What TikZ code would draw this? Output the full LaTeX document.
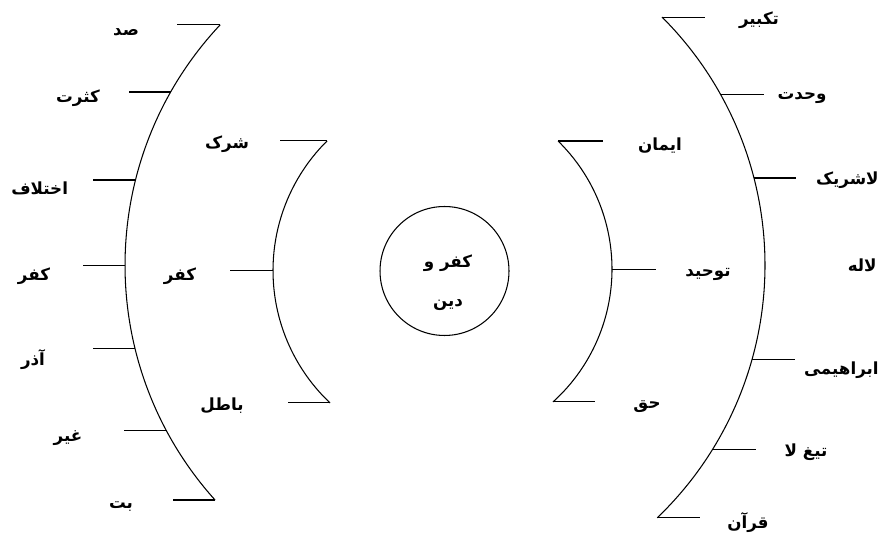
\documentclass[tikz,border=0pt]{standalone}
\usepackage{fontspec}
\newfontfamily\arabicfont[Script=Arabic]{DejaVu Sans}
\TeXXeTstate=1
\newcommand{\fatext}[1]{{\arabicfont\beginR #1\endR}}
\tikzset{
  lbl/.style={inner sep=0pt, font=\fontsize{9.5}{11}\selectfont\bfseries},
  bow/.style={line width=0.6pt},
  tick/.style={line width=0.6pt}
}

\begin{document}
\begin{tikzpicture}[x=0.02cm,y=0.02cm]
\useasboundingbox (0,0) rectangle (882,-536);

% centres of the four bows
\coordinate (cl) at (476.2,-265.2);
\coordinate (ci) at (455.3,-270.5);
\coordinate (cj) at (433,-269.1);
\coordinate (cr) at (414.8,-265.1);

% outer left bow
\coordinate (l1) at ([shift={(cl)}]136.8:351.2);
\coordinate (l2) at ([shift={(cl)}]150.45:351.2);
\coordinate (l3) at ([shift={(cl)}]165.96:351.2);
\coordinate (l4) at ([shift={(cl)}]180:351.2);
\coordinate (l5) at ([shift={(cl)}]193.8:351.2);
\coordinate (l6) at ([shift={(cl)}]208:351.2);
\coordinate (l7) at ([shift={(cl)}]221.96:351.2);
\draw[bow] (l1) arc[start angle=136.8, end angle=221.96, radius=351.2];
\draw[tick] (l1) -- ++(-43,0) coordinate (l1e);
\draw[tick] (l2) -- ++(-42,0) coordinate (l2e);
\draw[tick] (l3) -- ++(-42,0) coordinate (l3e);
\draw[tick] (l4) -- ++(-42,0) coordinate (l4e);
\draw[tick] (l5) -- ++(-42,0) coordinate (l5e);
\draw[tick] (l6) -- ++(-42,0) coordinate (l6e);
\draw[tick] (l7) -- ++(-42,0) coordinate (l7e);

\node[lbl] (samad)   at (126,-32)  {\fatext{صد}};
\node[lbl] (kasrat)  at (78,-98)   {\fatext{کثرت}};
\node[lbl, anchor=west] (ekhtel) at (11,-188) {\fatext{اختلاف}};
\node[lbl] (kofrA)   at (34,-276)  {\fatext{کفر}};
\node[lbl] (azar)    at (33,-360)  {\fatext{آذر}};
\node[lbl] (gheir)   at (68,-438)  {\fatext{غیر}};
\node[lbl] (bot)     at (121,-506) {\fatext{بت}};

% inner left bow
\coordinate (i1) at ([shift={(ci)}]134.7:182.3);
\coordinate (i2) at ([shift={(ci)}]180:182.3);
\coordinate (i3) at ([shift={(ci)}]226.6:182.3);
\draw[bow] (i1) arc[start angle=134.7, end angle=226.6, radius=182.3];
\draw[tick] (i1) -- ++(-47,0) coordinate (i1e);
\draw[tick] (i2) -- ++(-43,0) coordinate (i2e);
\draw[tick] (i3) -- ++(-42,0) coordinate (i3e);

\node[lbl] (sherk)   at (227,-144) {\fatext{شرک}};
\node[lbl] (kofrB)   at (180,-276) {\fatext{کفر}};
\node[lbl] (batel)   at (222,-406) {\fatext{باطل}};

% centre
\node[draw, circle, line width=0.6pt, minimum size=2.58cm, inner sep=0pt] (kd) at (444.5,-271) {};
\node[lbl, align=center] (kdtxt) at (448,-283) {\fatext{کفر و}\\[11pt]\fatext{دین}};

% inner right bow
\coordinate (j1) at ([shift={(cj)}]45.7:179);
\coordinate (j2) at ([shift={(cj)}]0:179);
\coordinate (j3) at ([shift={(cj)}]-47.9:179);
\draw[bow] (j1) arc[start angle=45.7, end angle=-47.9, radius=179];
\draw[tick] (j1) -- ++(45,0) coordinate (j1e);
\draw[tick] (j2) -- ++(44,0) coordinate (j2e);
\draw[tick] (j3) -- ++(42,0) coordinate (j3e);

\node[lbl] (iman)    at (660,-146) {\fatext{ایمان}};
\node[lbl] (tohid)   at (708,-274) {\fatext{توحید}};
\node[lbl] (hagh)    at (647,-407) {\fatext{حق}};

% outer right bow
\coordinate (r1) at ([shift={(cr)}]45.1:350.2);
\coordinate (r2) at ([shift={(cr)}]29.2:350.2);
\coordinate (r3) at ([shift={(cr)}]14.4:350.2);
\coordinate (r4) at ([shift={(cr)}]-15.7:350.2);
\coordinate (r5) at ([shift={(cr)}]-31.7:350.2);
\coordinate (r6) at ([shift={(cr)}]-46.2:350.2);
\draw[bow] (r1) arc[start angle=45.1, end angle=-46.2, radius=350.2];
\draw[tick] (r1) -- ++(43,0) coordinate (r1e);
\draw[tick] (r2) -- ++(44,0) coordinate (r2e);
\draw[tick] (r3) -- ++(42,0) coordinate (r3e);
\draw[tick] (r4) -- ++(43,0) coordinate (r4e);
\draw[tick] (r5) -- ++(43,0) coordinate (r5e);
\draw[tick] (r6) -- ++(43,0) coordinate (r6e);

\node[lbl] (takbir)  at (759,-20)  {\fatext{تکبیر}};
\node[lbl] (vahdat)  at (802,-98)  {\fatext{وحدت}};
\node[lbl, anchor=east] (lasharik) at (879,-180) {\fatext{لاشریک}};
\node[lbl, anchor=east] (laelah)  at (877,-265) {\fatext{لاله}};
\node[lbl, anchor=east] (ebrahim) at (879,-370) {\fatext{ابراهیمی}};
\node[lbl] (tigh)    at (806,-452) {\fatext{تیغ لا}};
\node[lbl] (quran)   at (748,-523) {\fatext{قرآن}};
\end{tikzpicture}
\end{document}
